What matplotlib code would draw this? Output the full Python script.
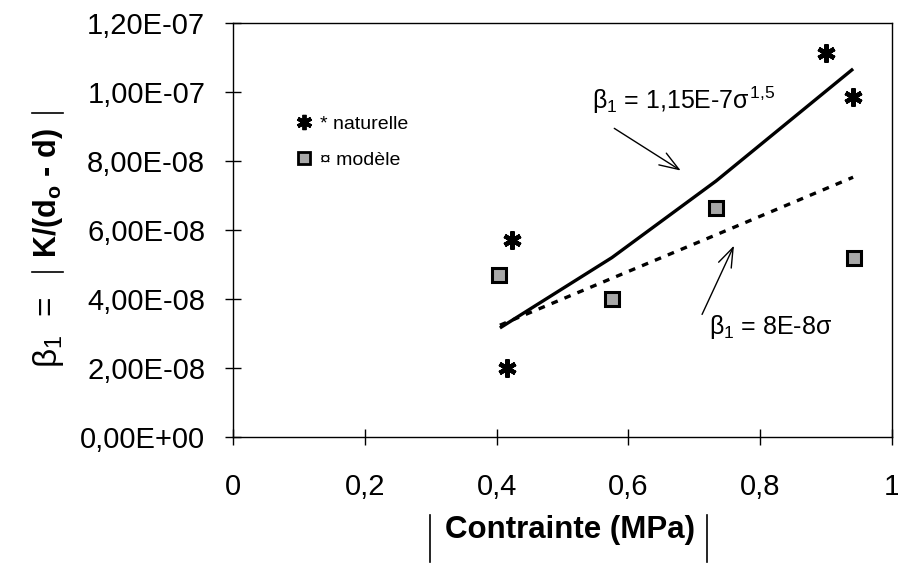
import numpy as np
import matplotlib
matplotlib.use("Agg")
import matplotlib.pyplot as plt
from matplotlib.lines import Line2D

plt.rcParams['font.family'] = ['Liberation Sans', 'DejaVu Sans']
plt.rcParams['mathtext.fontset'] = 'custom'
plt.rcParams['mathtext.rm'] = 'Liberation Sans'
plt.rcParams['mathtext.it'] = 'Liberation Sans'
plt.rcParams['mathtext.bf'] = 'Liberation Sans:bold'

sig_nat = [0.423, 0.416, 0.900, 0.941]
beta_nat = [5.71e-8, 2.00e-8, 1.113e-7, 9.86e-8]

sig_mod = [0.404, 0.575, 0.733, 0.942]
beta_mod = [4.70e-8, 4.00e-8, 6.64e-8, 5.19e-8]

# fitted curves
sig_fit = [0.405, 0.575, 0.733, 0.941]
beta_pow = [3.16e-8, 5.20e-8, 7.42e-8, 1.067e-7]   # 1,15E-7 sigma^1,5
beta_lin = [3.24e-8, 4.60e-8, 5.86e-8, 7.53e-8]    # 8E-8 sigma

x_ticks = [0, 0.2, 0.4, 0.6, 0.8, 1.0]
x_labels = ['0', '0,2', '0,4', '0,6', '0,8', '1']
y_ticks = [0, 2e-8, 4e-8, 6e-8, 8e-8, 1e-7, 1.2e-7]
y_labels = ['0,00E+00', '2,00E-08', '4,00E-08', '6,00E-08', '8,00E-08', '1,00E-07', '1,20E-07']

fig = plt.figure(figsize=(8.98, 5.64), dpi=100)
ax = fig.add_axes([0.2595, 0.2252, 0.7338, 0.734])

ax.plot(sig_fit, beta_pow, color='black', lw=2.4, solid_capstyle='butt')
ax.plot(sig_fit, beta_lin, color='black', lw=2.4, linestyle=(0, (2, 2.2)))

star = (6, 2, 0)
ax.plot(sig_nat, beta_nat, linestyle='none', marker=star, markersize=13,
        markeredgewidth=3.2, color='black')
ax.plot(sig_mod, beta_mod, linestyle='none', marker='s', markersize=9.5,
        markerfacecolor='#a8a8a8', markeredgecolor='black', markeredgewidth=2.2)

ax.set_xlim(0, 1)
ax.set_ylim(0, 1.2e-7)
ax.set_xticks(x_ticks)
ax.set_xticklabels(x_labels)
ax.set_yticks(y_ticks)
ax.set_yticklabels(y_labels)
ax.tick_params(direction='inout', length=12, width=1, labelsize=21)
ax.tick_params(axis='x', pad=20)
ax.tick_params(axis='y', pad=14)
for s in ax.spines.values():
    s.set_linewidth(1)

# legend
handles = [
    Line2D([], [], linestyle='none', marker=star, markersize=11, markeredgewidth=2.8, color='black'),
    Line2D([], [], linestyle='none', marker='s', markersize=8.5, markerfacecolor='#a8a8a8',
           markeredgecolor='black', markeredgewidth=2),
]
ax.legend(handles, ['* naturelle', '\u00a4 mod\u00e8le'], frameon=False, fontsize=14,
          loc='upper left', bbox_to_anchor=(0.07, 0.82), handlelength=0.8,
          handletextpad=0.4, labelspacing=0.95)

# annotations
ax.annotate('', xy=(0.683, 7.68e-8), xytext=(0.575, 8.99e-8),
            arrowprops=dict(arrowstyle='->,head_length=1.4,head_width=0.5', lw=1, color='black'))
ax.text(0.683, 9.77e-8, r'$\beta_1$ = 1,15E-7$\sigma^{1{,}5}$', fontsize=18,
        ha='center', va='center')
ax.annotate('', xy=(0.762, 5.62e-8), xytext=(0.710, 3.48e-8),
            arrowprops=dict(arrowstyle='->,head_length=1.4,head_width=0.5', lw=1, color='black'))
ax.text(0.815, 3.19e-8, r'$\beta_1$ = 8E-8$\sigma$', fontsize=18,
        ha='center', va='center')

# axis titles
fig.text(570 / 898, 1 - 530 / 564, 'Contrainte (MPa)', fontsize=22.5, fontweight='bold',
         ha='center', va='center')
for xb in (430, 707):
    fig.add_artist(Line2D([xb / 898, xb / 898], [1 - 515 / 564, 1 - 562 / 564],
                          color='black', lw=1.2))

fig.text(48 / 898, 1 - 332 / 564, r'$\beta_1$  =', fontsize=24,
         rotation=90, ha='center', va='center')
ylab = r'$\mathbf{K/(d_o\ ' + '\u2010' + r'\ d)}$'
fig.text(48 / 898, 1 - 193 / 564, ylab, fontsize=22,
         rotation=90, ha='center', va='center')
for yb in (113, 272):
    fig.add_artist(Line2D([32 / 898, 63 / 898], [1 - yb / 564, 1 - yb / 564],
                          color='black', lw=1.2))

fig.savefig('out.png', dpi=100)
